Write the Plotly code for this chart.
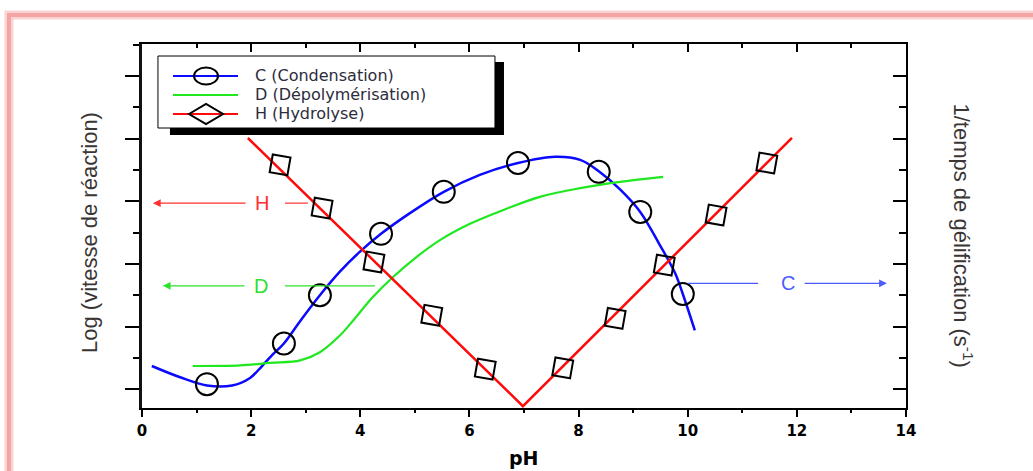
import plotly.graph_objects as go

# ---- data ----
# C (Condensation) : smooth curve + circle markers
c_curve_ph = [0.18, 0.70, 1.19, 1.65, 1.98, 2.20, 2.38, 2.60, 2.90, 3.26, 3.63, 4.00, 4.38,
              4.91, 5.53, 6.19, 6.89, 7.57, 8.03, 8.37, 8.76, 9.13, 9.49, 9.77, 9.91, 10.13]
c_curve_val = [1.37, 1.19, 1.06, 1.06, 1.18, 1.37, 1.54, 1.73, 2.09, 2.50, 2.88, 3.20, 3.48,
               3.81, 4.15, 4.42, 4.61, 4.71, 4.66, 4.48, 4.19, 3.83, 3.30, 2.85, 2.52, 1.94]
c_mark_ph = [1.19, 2.60, 3.26, 4.38, 5.53, 6.89, 8.37, 9.13, 9.91]
c_mark_val = [1.08, 1.73, 2.50, 3.48, 4.15, 4.61, 4.47, 3.83, 2.52]

# D (Dépolymérisation) : smooth curve
d_curve_ph = [0.93, 1.80, 2.35, 2.90, 3.26, 3.63, 3.90, 4.23, 4.60, 5.00, 5.46, 6.01,
              6.56, 7.29, 8.03, 8.76, 9.55]
d_curve_val = [1.37, 1.38, 1.42, 1.46, 1.59, 1.86, 2.13, 2.47, 2.79, 3.09, 3.38, 3.64,
               3.84, 4.07, 4.21, 4.31, 4.39]

# H (Hydrolyse) : V-shaped line + diamond markers
h_line_ph = [1.94, 6.98, 11.91]
h_line_val = [5.01, 0.73, 5.01]
h_mark_ph = [2.53, 3.30, 4.25, 5.31, 6.29, 7.71, 8.67, 9.57, 10.52, 11.45]
h_mark_val = [4.58, 3.89, 3.03, 2.18, 1.32, 1.34, 2.13, 2.98, 3.78, 4.61]

series_names = ["C (Condensation)", "D (Dépolymérisation)", "H (Hydrolyse)"]
x_ticks = [0, 2, 4, 6, 8, 10, 12, 14]

# arrow labels: (text, tip pH, text pH, level, extra segment start, extra segment end)
arrow_labels = [
    ("H", 0.20, 2.20, 3.97, 2.62, 3.04),
    ("D", 0.38, 2.18, 2.65, 2.62, 4.27),
    ("C", 13.65, 11.84, 2.69, 10.00, 11.29),
]

BLUE = "#0a0aff"
GREEN = "#1ee81e"
RED = "#ff0a0a"
label_colors = {"H": "#ff3030", "D": "#30e030", "C": "#4a5cff"}
series_colors = [BLUE, GREEN, RED]

X_RANGE = [0, 14]
Y_RANGE = [0.70, 6.51]

fig = go.Figure()

# curves
fig.add_trace(go.Scatter(x=c_curve_ph, y=c_curve_val, mode="lines", name=series_names[0],
                         line=dict(color=BLUE, width=2.5, shape="spline", smoothing=1.0),
                         hoverinfo="skip"))
fig.add_trace(go.Scatter(x=d_curve_ph, y=d_curve_val, mode="lines", name=series_names[1],
                         line=dict(color=GREEN, width=2.2, shape="spline", smoothing=1.0),
                         hoverinfo="skip"))
fig.add_trace(go.Scatter(x=h_line_ph, y=h_line_val, mode="lines", name=series_names[2],
                         line=dict(color=RED, width=2.5),
                         hoverinfo="skip"))
# markers (on the mirrored top/right axes, same ranges, so those axes get drawn)
fig.add_trace(go.Scatter(x=c_mark_ph, y=c_mark_val, mode="markers", name=series_names[0],
                         marker=dict(symbol="circle-open", size=22, color="black",
                                     line=dict(width=2, color="black")),
                         xaxis="x2", yaxis="y2"))
fig.add_trace(go.Scatter(x=h_mark_ph, y=h_mark_val, mode="markers", name=series_names[2],
                         marker=dict(symbol="square-open", size=18, color="black", angle=10,
                                     line=dict(width=2, color="black")),
                         xaxis="x2", yaxis="y2"))

annotations = []
shapes = []
for txt, tip, tx, lvl, s0, s1 in arrow_labels:
    col = label_colors[txt]
    annotations.append(dict(
        x=tip, y=lvl, ax=tx, ay=lvl, xref="x", yref="y", axref="x", ayref="y",
        text=txt, showarrow=True, arrowhead=2, arrowsize=1.3, arrowwidth=1.2,
        arrowcolor=col, borderpad=9,
        font=dict(family="Liberation Sans, Arial", size=20, color=col)))
    shapes.append(dict(type="line", xref="x", yref="y", x0=s0, x1=s1, y0=lvl, y1=lvl,
                       line=dict(color=col, width=1.2)))

# axis titles
annotations.append(dict(text="Log (vitesse de réaction)", xref="paper", yref="paper",
                        x=-0.068, y=0.481, textangle=-90, showarrow=False,
                        xanchor="center", yanchor="middle",
                        font=dict(family="Liberation Sans, Arial", size=22, color="#3a3636")))
annotations.append(dict(text="1/temps de gélification (s<sup>-1</sup>)", xref="paper", yref="paper",
                        x=1.0746, y=0.474, textangle=90, showarrow=False,
                        xanchor="center", yanchor="middle",
                        font=dict(family="Liberation Sans, Arial", size=22, color="#3a3636")))
annotations.append(dict(text="pH", xref="paper", yref="paper", x=0.5, y=-0.137,
                        showarrow=False, xanchor="center", yanchor="middle",
                        font=dict(family="DejaVu Sans", size=19, color="black", weight="bold")))

# ---- legend box drawn in paper coordinates ----
LEG_X0, LEG_X1, LEG_Y0, LEG_Y1 = 0.0209, 0.4620, 0.7692, 0.9670
SHADOW = dict(x0=0.0366, x1=0.4738, y0=0.750, y1=0.9505)
ROW_Y = [0.9121, 0.8599, 0.8077]
SAMPLE_X0, SAMPLE_X1, SAMPLE_MID, TEXT_X = 0.0406, 0.1257, 0.0838, 0.1453

shapes.append(dict(type="rect", xref="paper", yref="paper", layer="above",
                   fillcolor="black", line=dict(width=0), **SHADOW))
shapes.append(dict(type="rect", xref="paper", yref="paper", layer="above",
                   x0=LEG_X0, x1=LEG_X1, y0=LEG_Y0, y1=LEG_Y1,
                   fillcolor="white", line=dict(color="black", width=1)))
for name, col, ry in zip(series_names, series_colors, ROW_Y):
    shapes.append(dict(type="line", xref="paper", yref="paper", layer="above",
                       x0=SAMPLE_X0, x1=SAMPLE_X1, y0=ry, y1=ry,
                       line=dict(color=col, width=2)))
    annotations.append(dict(text=name, xref="paper", yref="paper", x=TEXT_X, y=ry,
                            xanchor="left", yanchor="middle", showarrow=False,
                            font=dict(family="DejaVu Sans", size=16, color="#2c2c3c")))
# legend marker glyphs
shapes.append(dict(type="circle", xref="paper", yref="paper", layer="above",
                   xsizemode="pixel", ysizemode="pixel", xanchor=SAMPLE_MID, yanchor=ROW_Y[0],
                   x0=-12, x1=12, y0=-8.5, y1=8.5,
                   fillcolor="rgba(0,0,0,0)", line=dict(color="black", width=2)))
shapes.append(dict(type="path", xref="paper", yref="paper", layer="above",
                   xsizemode="pixel", ysizemode="pixel", xanchor=SAMPLE_MID, yanchor=ROW_Y[2],
                   path="M -17 0 L 0 10 L 17 0 L 0 -10 Z",
                   fillcolor="rgba(0,0,0,0)", line=dict(color="black", width=2)))

# pink outer frame
shapes.append(dict(type="rect", xref="paper", yref="paper", layer="below",
                   x0=-0.1741, x1=1.1754, y0=-0.26, y1=1.0797,
                   fillcolor="rgba(0,0,0,0)", line=dict(color="#fbd3d3", width=9)))
shapes.append(dict(type="rect", xref="paper", yref="paper", layer="below",
                   x0=-0.1741, x1=1.1754, y0=-0.26, y1=1.0797,
                   fillcolor="rgba(0,0,0,0)", line=dict(color="#f4a4a4", width=4)))

fig.update_layout(
    width=1033, height=471, autosize=False,
    margin=dict(l=142, r=127, t=44, b=63, pad=0),
    paper_bgcolor="white", plot_bgcolor="white",
    showlegend=False,
    xaxis=dict(range=X_RANGE, tickvals=x_ticks, ticks="outside", ticklen=7, tickwidth=2,
               tickcolor="black", showline=True, linecolor="black", linewidth=2,
               showgrid=False, zeroline=False,
               minor=dict(dtick=1, ticks="outside", ticklen=3, tickwidth=2, tickcolor="black"),
               tickfont=dict(family="DejaVu Sans", size=15, color="black", weight="bold"),
               ticklabelstandoff=1),
    xaxis2=dict(range=X_RANGE, overlaying="x", side="top", anchor="y", tickvals=x_ticks,
                ticks="inside", ticklen=8, tickwidth=2, tickcolor="black",
                showticklabels=False, showline=True, linecolor="black", linewidth=2,
                showgrid=False, zeroline=False,
                minor=dict(dtick=1, ticks="inside", ticklen=4, tickwidth=2, tickcolor="black")),
    yaxis=dict(range=Y_RANGE, dtick=1, tick0=0, ticks="outside", ticklen=14, tickwidth=2,
               tickcolor="black", showticklabels=False, showline=True, linecolor="#111",
               linewidth=2.5, showgrid=False, zeroline=False,
               minor=dict(dtick=0.5, tick0=0, ticks="outside", ticklen=6, tickwidth=2,
                          tickcolor="black")),
    yaxis2=dict(range=Y_RANGE, overlaying="y", side="right", anchor="x", dtick=1, tick0=0,
                ticks="inside", ticklen=13, tickwidth=2, tickcolor="black",
                showticklabels=False, showline=True, linecolor="black", linewidth=2,
                showgrid=False, zeroline=False,
                minor=dict(dtick=0.5, tick0=0, ticks="inside", ticklen=7, tickwidth=2,
                           tickcolor="black")),
    annotations=annotations,
    shapes=shapes,
)

fig.write_html("out.html")
